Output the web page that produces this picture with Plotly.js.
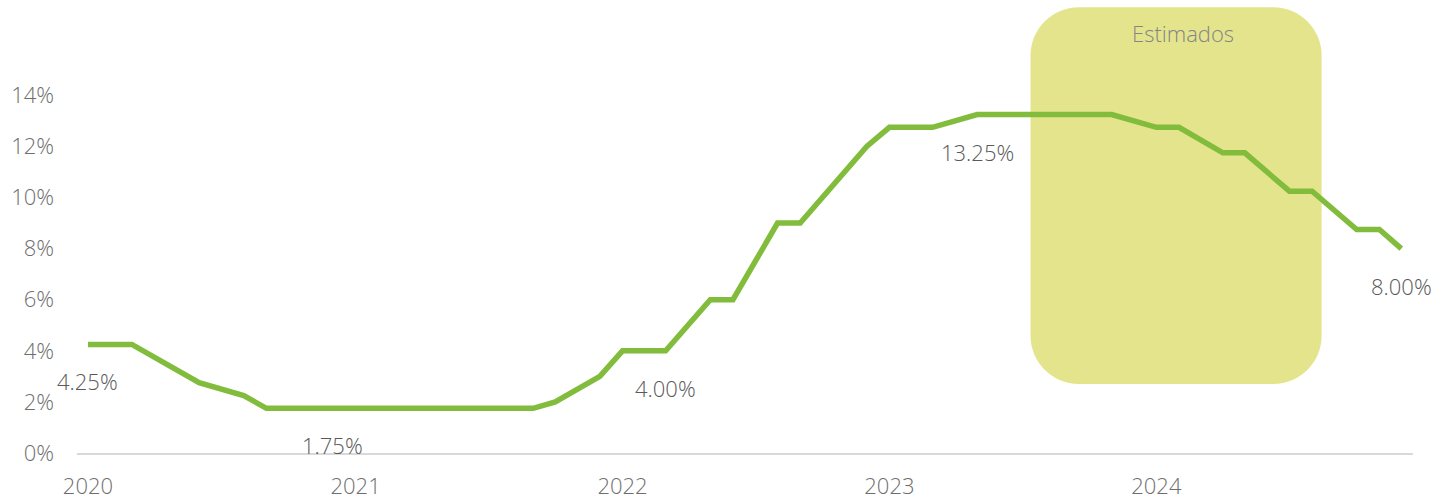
<!DOCTYPE html>
<html>
<head>
<meta charset="utf-8">
<script src="https://cdn.plot.ly/plotly-3.0.1.min.js"></script>
<style>
  html, body { margin: 0; padding: 0; background: #ffffff; }
  #chart { width: 1450px; height: 500px; }
</style>
</head>
<body>
<div id="chart"></div>
<script>
// ---- data ----
const dates = [
  '2020-01-01','2020-03-01','2020-06-01','2020-08-01','2020-09-01','2020-12-01',
  '2021-09-01','2021-10-01','2021-12-01',
  '2022-01-01','2022-03-01','2022-05-01','2022-06-01','2022-08-01','2022-09-01','2022-12-01',
  '2023-01-01','2023-03-01','2023-05-01','2023-11-01',
  '2024-01-01','2024-02-01','2024-04-01','2024-05-01','2024-07-01','2024-08-01',
  '2024-10-01','2024-11-01','2024-12-01'
];
const rates = [
  4.25, 4.25, 2.75, 2.25, 1.75, 1.75,
  1.75, 2.00, 3.00,
  4.00, 4.00, 6.00, 6.00, 9.00, 9.00, 12.00,
  12.75, 12.75, 13.25, 13.25,
  12.75, 12.75, 11.75, 11.75, 10.25, 10.25,
  8.75, 8.75, 8.00
];
const labelDates  = ['2020-01-01', '2020-12-01', '2022-03-01', '2023-05-01', '2024-12-01'];
const labelValues = [4.25, 1.75, 4.00, 13.25, 8.00];
const labelTexts  = ['4.25%', '1.75%', '4.00%', '13.25%', '8.00%'];

const yTicks = [0, 2, 4, 6, 8, 10, 12, 14];
const yTickText = ['0%', '2%', '4%', '6%', '8%', '10%', '12%', '14%'];
const xTicks = ['2020-01-01', '2021-01-01', '2022-01-01', '2023-01-01', '2024-01-01'];
const xTickText = ['2020', '2021', '2022', '2023', '2024'];

// estimated period band
const estLabel = 'Estimados';
const estStart = '2023-07-13';
const estEnd   = '2024-08-14';
const estLow   = 2.7;
const estHigh  = 17.45;

// ---- helpers ----
function addDays(s, n) {
  const d = new Date(s + 'T00:00:00Z');
  d.setUTCDate(d.getUTCDate() + n);
  return d.toISOString().slice(0, 10);
}
function roundedBoxPath(x0, x1, y0, y1, rxDays, ry) {
  const k = 0.5523;
  const xa = addDays(x0, rxDays), xb = addDays(x1, -rxDays);
  const xak = addDays(x0, Math.round(rxDays * (1 - k)));
  const xbk = addDays(x1, -Math.round(rxDays * (1 - k)));
  const yak = y0 + ry * (1 - k), ybk = y1 - ry * (1 - k);
  return [
    'M', xa + ',' + y0,
    'L', xb + ',' + y0,
    'C', xbk + ',' + y0, x1 + ',' + yak, x1 + ',' + (y0 + ry),
    'L', x1 + ',' + (y1 - ry),
    'C', x1 + ',' + ybk, xbk + ',' + y1, xb + ',' + y1,
    'L', xa + ',' + y1,
    'C', xak + ',' + y1, x0 + ',' + ybk, x0 + ',' + (y1 - ry),
    'L', x0 + ',' + (y0 + ry),
    'C', x0 + ',' + yak, xak + ',' + y0, xa + ',' + y0,
    'Z'
  ].join(' ');
}
function midDate(a, b) {
  const ta = Date.parse(a + 'T00:00:00Z'), tb = Date.parse(b + 'T00:00:00Z');
  return new Date((ta + tb) / 2).toISOString().slice(0, 10);
}

const FONT = 'Open Sans, Noto Sans, sans-serif';
const FS = 22;

const trace = {
  x: dates,
  y: rates,
  type: 'scatter',
  mode: 'lines',
  line: { color: '#82bc3d', width: 5.5 },
  hoverinfo: 'skip',
  showlegend: false
};

const annotations = labelDates.map((d, i) => ({
  x: d, y: labelValues[i], xref: 'x', yref: 'y',
  text: labelTexts[i], showarrow: false,
  yshift: -37,
  font: { family: FONT, size: FS, color: '#595959', weight: 300 }
}));
annotations.push({
  x: midDate(estStart, estEnd), y: 16.46, xref: 'x', yref: 'y',
  text: estLabel, showarrow: false, xshift: 7,
  font: { family: FONT, size: FS, color: '#858585', weight: 300 }
});

const layout = {
  width: 1450, height: 500,
  margin: { l: 77, r: 37, t: 6, b: 47 },
  paper_bgcolor: '#ffffff', plot_bgcolor: '#ffffff',
  showlegend: false,
  font: { family: FONT, size: FS, color: '#6e6e6e', weight: 300 },
  xaxis: {
    type: 'date',
    range: ['2019-12-17', '2024-12-17'],
    tickvals: xTicks, ticktext: xTickText,
    showgrid: false, zeroline: false,
    showline: true, linecolor: '#d9d9d9', linewidth: 2,
    ticks: '', ticklabelstandoff: 13,
    tickfont: { family: FONT, size: FS, color: '#6e6e6e', weight: 300 }
  },
  yaxis: {
    range: [0, 17.5],
    tickvals: yTicks, ticktext: yTickText,
    showgrid: false, zeroline: false, showline: false,
    ticks: '', ticklabelstandoff: 22,
    tickfont: { family: FONT, size: FS, color: '#6e6e6e', weight: 300 }
  },
  shapes: [{
    type: 'path', xref: 'x', yref: 'y', layer: 'below',
    path: roundedBoxPath(estStart, estEnd, estLow, estHigh, 66, 1.88),
    fillcolor: '#e4e48d', line: { width: 0 }
  }],
  annotations: annotations
};

Plotly.newPlot('chart', [trace], layout, { displayModeBar: false, staticPlot: true });
</script>
</body>
</html>
